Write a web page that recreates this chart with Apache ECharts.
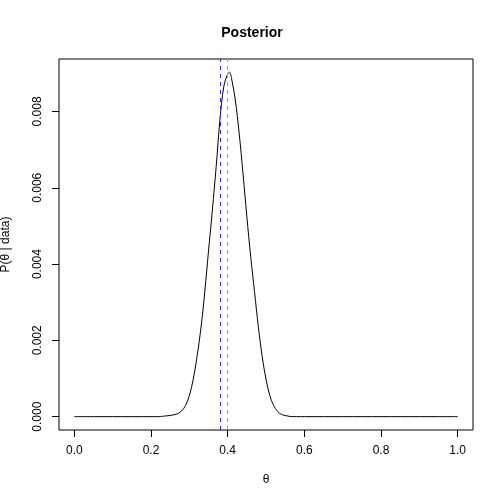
<!DOCTYPE html>
<html>
<head>
<meta charset="utf-8">
<script src="https://cdn.jsdelivr.net/npm/echarts@6/dist/echarts.min.js"></script>
<style>html,body{margin:0;padding:0;background:#fff}#c{width:504px;height:504px}</style>
</head>
<body>
<div id="c"></div>
<script>
var theta = [0.00,0.05,0.10,0.15,0.20,0.22,0.23,0.24,0.25,0.26,0.27,0.28,0.29,0.30,0.31,0.32,0.33,0.34,0.35,0.36,0.37,0.38,0.39,0.40,0.405,0.41,0.42,0.43,0.44,0.45,0.46,0.47,0.48,0.49,0.50,0.51,0.52,0.53,0.54,0.55,0.56,0.57,0.58,0.60,0.65,0.70,0.75,0.80,0.85,0.90,0.95,1.00];
var posterior = [0,0,0,0,0,0,0.00001,0.00002,0.00003,0.00005,0.00008,0.00015,0.00029,0.00055,0.00097,0.00157,0.00230,0.00324,0.00434,0.00540,0.00655,0.00780,0.00866,0.00898,0.00903,0.00887,0.00830,0.00743,0.00637,0.00525,0.00420,0.00328,0.00236,0.00158,0.00098,0.00055,0.00029,0.00014,0.00006,0.00003,0.00001,0,0,0,0,0,0,0,0,0,0,0];
var xTicks = [0, 0.2, 0.4, 0.6, 0.8, 1.0];
var yTicks = [0, 0.002, 0.004, 0.006, 0.008];
var blueLineX = 0.381;
var redLineX = 0.403;

var pts = theta.map(function (t, i) { return [t, posterior[i]]; });
var chart = echarts.init(document.getElementById('c'), null, {renderer: 'canvas'});
var font = 'Liberation Sans, Arial, Helvetica, sans-serif';
function vline(name, x, color) {
  return {
    type: 'line', name: name, data: [], silent: true, z: 5,
    markLine: {
      silent: true, symbol: 'none', label: {show: false}, animation: false,
      lineStyle: {color: color, type: [4, 4], width: 1, opacity: 1},
      data: [{xAxis: x}]
    }
  };
}
chart.setOption({
  backgroundColor: '#fff',
  animation: false,
  title: {
    text: 'Posterior', left: 'center', top: 21,
    textStyle: {fontFamily: font, fontSize: 14, fontWeight: 'bold', color: '#000'}
  },
  grid: {left: 59, right: 31, top: 59, bottom: 74, containLabel: false, outerBoundsMode: 'none',
    show: true, borderColor: '#000', borderWidth: 1, backgroundColor: 'transparent'},
  xAxis: {
    type: 'value', min: -0.04, max: 1.04, position: 'bottom',
    name: 'θ', nameLocation: 'middle', nameGap: 44,
    nameTextStyle: {fontFamily: font, fontSize: 12, color: '#000'},
    axisLine: {show: false, onZero: false},
    axisTick: {show: true, customValues: xTicks, length: 7, inside: false, lineStyle: {color: '#000'}},
    axisLabel: {customValues: xTicks, margin: 15, fontFamily: font, fontSize: 12, color: '#000',
      formatter: function (v) { return v.toFixed(1); }},
    splitLine: {show: false}
  },
  yAxis: {
    type: 'value', min: -0.00035, max: 0.009375, position: 'left',
    name: 'P(θ | data)', nameLocation: 'middle', nameGap: 47, nameRotate: 90,
    nameTextStyle: {fontFamily: font, fontSize: 12, color: '#000'},
    axisLine: {show: false, onZero: false},
    axisTick: {show: true, customValues: yTicks, length: 7, inside: false, lineStyle: {color: '#000'}},
    axisLabel: {customValues: yTicks, margin: 15, rotate: 90, fontFamily: font, fontSize: 12, color: '#000',
      formatter: function (v) { return v.toFixed(3); }},
    splitLine: {show: false}
  },
  series: [{
    type: 'line', data: pts, smooth: 0.35, showSymbol: false, symbol: 'none',
    lineStyle: {color: '#000', width: 1}, itemStyle: {color: '#000'}, z: 2
  },
  vline('blue', blueLineX, '#2a2aff'),
  vline('red', redLineX, '#ff7070')]
});
</script>
</body>
</html>
